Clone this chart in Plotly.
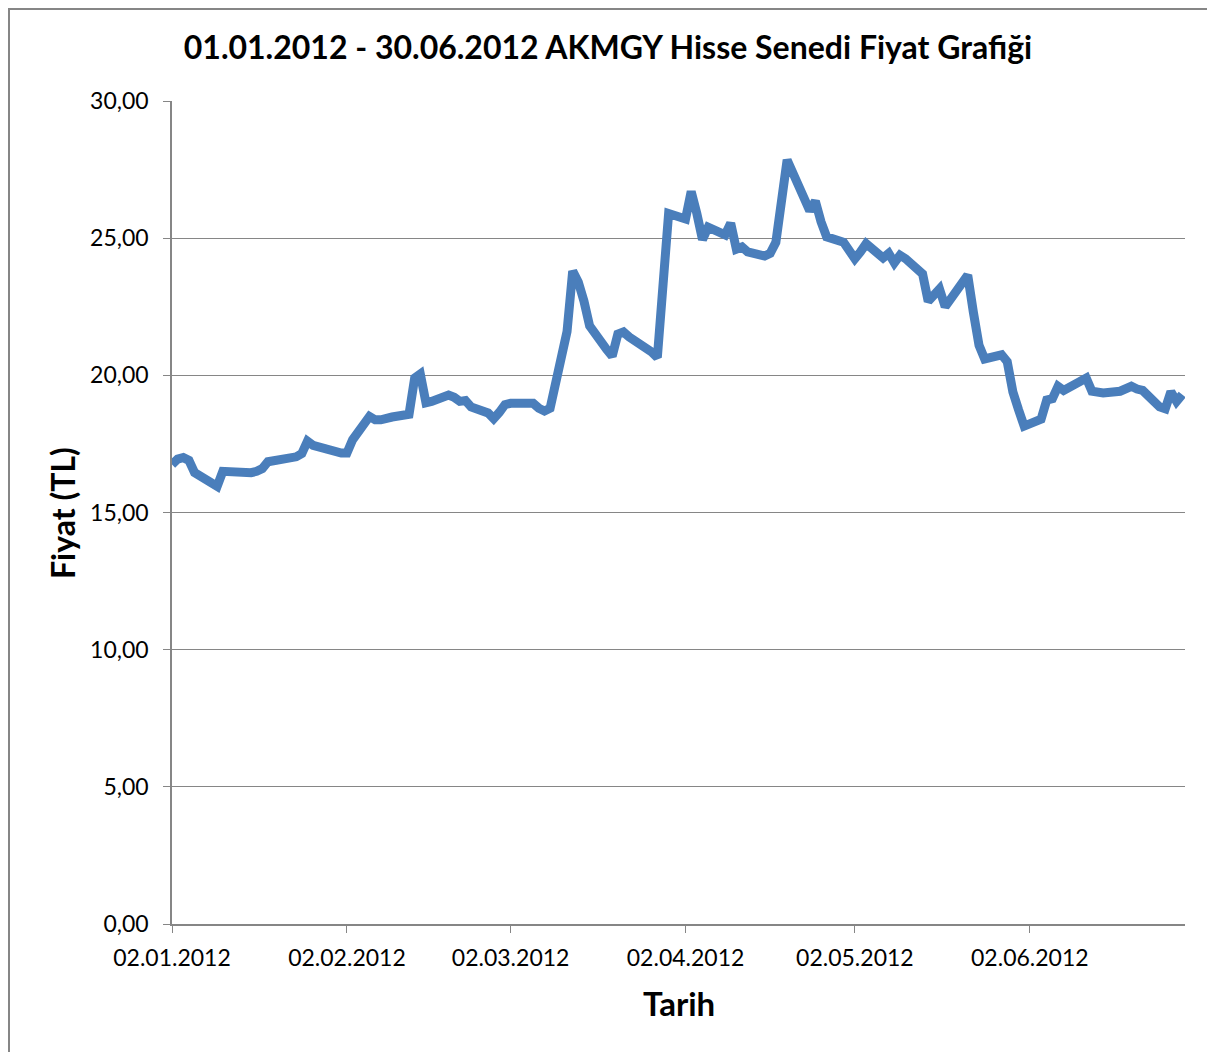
import plotly.graph_objects as go

dates = [
    "2012-01-02", "2012-01-03", "2012-01-04", "2012-01-05", "2012-01-06",
    "2012-01-09", "2012-01-10", "2012-01-11", "2012-01-12", "2012-01-13",
    "2012-01-16", "2012-01-17", "2012-01-18", "2012-01-19", "2012-01-20",
    "2012-01-23", "2012-01-24", "2012-01-25", "2012-01-26", "2012-01-27",
    "2012-01-30", "2012-01-31", "2012-02-01", "2012-02-02", "2012-02-03",
    "2012-02-06", "2012-02-07", "2012-02-08", "2012-02-09", "2012-02-10",
    "2012-02-13", "2012-02-14", "2012-02-15", "2012-02-16", "2012-02-17",
    "2012-02-20", "2012-02-21", "2012-02-22", "2012-02-23", "2012-02-24",
    "2012-02-27", "2012-02-28", "2012-02-29", "2012-03-01", "2012-03-02",
    "2012-03-05", "2012-03-06", "2012-03-07", "2012-03-08", "2012-03-09",
    "2012-03-12", "2012-03-13", "2012-03-14", "2012-03-15", "2012-03-16",
    "2012-03-19", "2012-03-20", "2012-03-21", "2012-03-22", "2012-03-23",
    "2012-03-26", "2012-03-27", "2012-03-28", "2012-03-29", "2012-03-30",
    "2012-04-02", "2012-04-03", "2012-04-04", "2012-04-05", "2012-04-06",
    "2012-04-09", "2012-04-10", "2012-04-11", "2012-04-12", "2012-04-13",
    "2012-04-16", "2012-04-17", "2012-04-18", "2012-04-19", "2012-04-20",
    "2012-04-24", "2012-04-25", "2012-04-26", "2012-04-27",
    "2012-04-30", "2012-05-02", "2012-05-03", "2012-05-04",
    "2012-05-07", "2012-05-08", "2012-05-09", "2012-05-10", "2012-05-11",
    "2012-05-14", "2012-05-15", "2012-05-16", "2012-05-17", "2012-05-18",
    "2012-05-21", "2012-05-22", "2012-05-23", "2012-05-24", "2012-05-25",
    "2012-05-28", "2012-05-29", "2012-05-30", "2012-05-31", "2012-06-01",
    "2012-06-04", "2012-06-05", "2012-06-06", "2012-06-07", "2012-06-08",
    "2012-06-11", "2012-06-12", "2012-06-13", "2012-06-14", "2012-06-15",
    "2012-06-18", "2012-06-19", "2012-06-20", "2012-06-21", "2012-06-22",
    "2012-06-25", "2012-06-26", "2012-06-27", "2012-06-28", "2012-06-29",
]

prices = [
    16.75, 16.95, 17.00, 16.90, 16.45,
    16.10, 15.95, 16.50, 16.48, 16.44,
    16.45, 16.50, 16.60, 16.85, 16.88,
    17.05, 17.03, 17.15, 17.60, 17.45,
    17.25, 17.18, 17.17, 17.17, 17.65,
    18.50, 18.38, 18.38, 18.45, 18.48,
    18.58, 19.90, 20.05, 19.00, 19.05,
    19.28, 19.20, 19.05, 19.08, 18.85,
    18.63, 18.42, 18.65, 18.93, 18.98,
    18.92, 18.98, 18.80, 18.70, 18.80,
    21.60, 23.80, 23.40, 22.70, 21.80,
    20.95, 20.70, 21.50, 21.58, 21.40,
    21.05, 20.85, 20.65, 23.30, 25.90,
    25.70, 26.70, 25.90, 24.95, 25.40,
    25.12, 25.55, 24.60, 24.68, 24.50,
    24.35, 24.45, 24.85, 26.30, 27.85,
    26.00, 26.35, 25.60, 25.05,
    24.85, 24.25, 24.50, 24.80,
    24.28, 24.45, 24.10, 24.38, 24.25,
    23.70, 22.70, 22.90, 23.15, 22.50,
    23.30, 23.65, 22.30, 21.10, 20.60,
    20.75, 20.50, 19.40, 18.75, 18.15,
    18.40, 19.10, 19.15, 19.60, 19.45,
    19.85, 19.90, 19.42, 19.40, 19.36,
    19.42, 19.50, 19.60, 19.50, 19.45,
    18.85, 18.78, 19.40, 19.05, 19.30,
]

x_tick_vals = ["2012-01-02", "2012-02-02", "2012-03-02", "2012-04-02", "2012-05-02", "2012-06-02"]
x_tick_text = ["02.01.2012", "02.02.2012", "02.03.2012", "02.04.2012", "02.05.2012", "02.06.2012"]
y_tick_vals = [0, 5, 10, 15, 20, 25, 30]

title_text = "01.01.2012 - 30.06.2012 AKMGY Hisse Senedi Fiyat Grafiği"
x_title = "Tarih"
y_title = "Fiyat (TL)"

# page has an 8px body margin; figure sized to fit the 1215x1052 window
OFF = 8
W, H = 1215 - OFF, 1052 - OFF
PL, PR, PT, PB = 172, 1185, 101, 924          # plot area in screen pixels
L, T = PL - OFF, PT - OFF
R = W - (PR - OFF)
B = H - (PB - OFF)
pw = PR - PL
ph = PB - PT

def px_x(p):
    return (p - PL) / pw

def px_y(p):
    return (PB - p) / ph

FONT = "Lato, Carlito, Calibri, 'Liberation Sans', sans-serif"
GRID = "#868686"

fig = go.Figure()
fig.add_trace(go.Scatter(
    x=dates, y=prices, mode="lines",
    line=dict(color="#4A7EBB", width=9),
    hoverinfo="x+y", showlegend=False,
))

fig.update_layout(
    width=W, height=H,
    margin=dict(l=L, r=R, t=T, b=B),
    paper_bgcolor="white", plot_bgcolor="white",
    separators=",.",
    font=dict(family=FONT, color="black", size=23),
    title=dict(text="<b>" + title_text + "</b>", x=(608 - OFF) / W, xanchor="center",
               y=1 - (48 - OFF) / H, yanchor="middle", yref="container",
               font=dict(family=FONT, size=32, color="black")),
    xaxis=dict(
        type="date", range=["2012-01-02", "2012-06-29 12:00"],
        tickvals=x_tick_vals, ticktext=x_tick_text,
        ticks="outside", ticklen=7, tickcolor=GRID, tickwidth=1,
        ticklabelstandoff=6,
        showline=True, linecolor=GRID, linewidth=1.5,
        showgrid=False, zeroline=False,
        tickfont=dict(family=FONT, size=23, color="black"),
    ),
    yaxis=dict(
        range=[0, 30], tickvals=y_tick_vals, tickformat=".2f",
        ticks="outside", ticklen=7, tickcolor=GRID, tickwidth=1,
        ticklabelstandoff=10,
        showline=True, linecolor=GRID, linewidth=1.5,
        showgrid=True, gridcolor=GRID, gridwidth=1,
        zeroline=False,
        tickfont=dict(family=FONT, size=23, color="black"),
    ),
    annotations=[
        dict(text="<b>" + x_title + "</b>", xref="paper", yref="paper",
             x=0.5, y=px_y(1003), xanchor="center", yanchor="middle",
             showarrow=False, font=dict(family=FONT, size=33, color="black")),
        dict(text="<b>" + y_title + "</b>", xref="paper", yref="paper",
             x=px_x(62), y=px_y(513), xanchor="center", yanchor="middle",
             textangle=-90, showarrow=False,
             font=dict(family=FONT, size=32, color="black")),
    ],
    shapes=[
        dict(type="rect", xref="paper", yref="paper",
             x0=px_x(OFF + 1), x1=px_x(1212), y0=px_y(1080), y1=px_y(OFF + 1),
             line=dict(color=GRID, width=2), fillcolor="rgba(0,0,0,0)",
             layer="below"),
    ],
)

fig.write_html("out.html")
